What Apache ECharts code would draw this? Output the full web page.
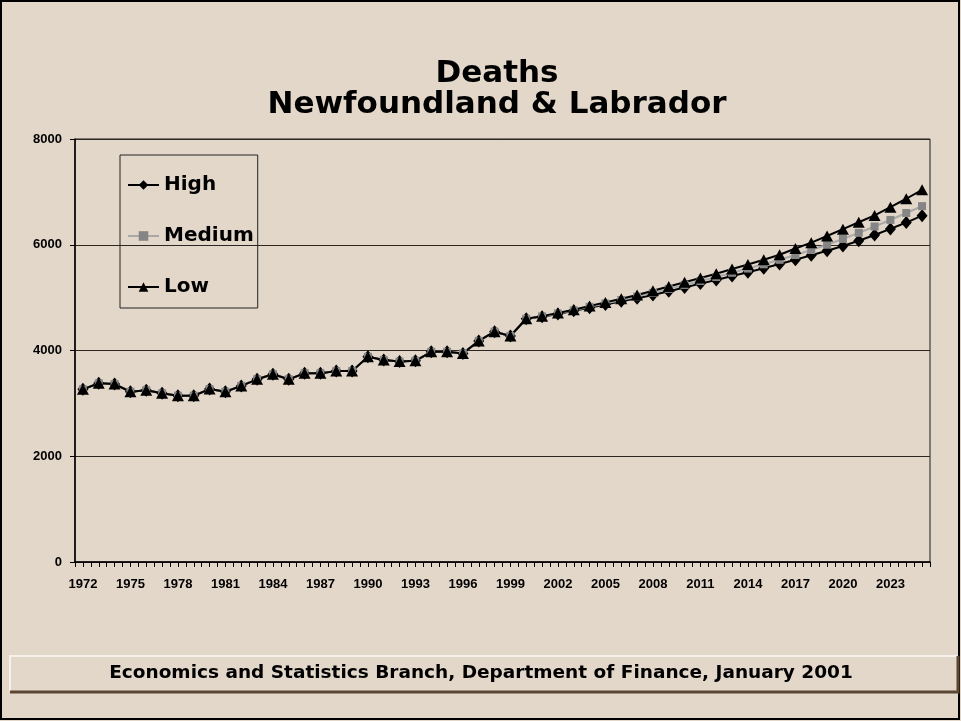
<!DOCTYPE html>
<html>
<head>
<meta charset="utf-8">
<title>Deaths - Newfoundland & Labrador</title>
<script src="https://cdn.jsdelivr.net/npm/echarts@6/dist/echarts.min.js"></script>
<style>
  html, body { margin: 0; padding: 0; background: #E3D7CA; }
  #chart { width: 961px; height: 721px; }
</style>
</head>
<body>
<div id="chart"></div>
<script>
// categories
const years = [
  '1972','1973','1974','1975','1976','1977','1978','1979','1980','1981',
  '1982','1983','1984','1985','1986','1987','1988','1989','1990','1991',
  '1992','1993','1994','1995','1996','1997','1998','1999','2000','2001',
  '2002','2003','2004','2005','2006','2007','2008','2009','2010','2011',
  '2012','2013','2014','2015','2016','2017','2018','2019','2020','2021',
  '2022','2023','2024','2025'
]

// projection series (identical until 1999)
const highValues = [
  3265, 3380, 3365, 3220, 3250, 3190, 3145, 3145, 3270, 3220,
  3330, 3455, 3550, 3455, 3570, 3570, 3610, 3610, 3880, 3820,
  3790, 3805, 3975, 3975, 3945, 4180, 4355, 4275, 4600, 4640,
  4690, 4750, 4810, 4870, 4930, 4990, 5050, 5120, 5190, 5265,
  5335, 5410, 5480, 5555, 5635, 5715, 5800, 5885, 5975, 6075,
  6185, 6300, 6420, 6550
]
const mediumValues = [
  3265, 3380, 3365, 3220, 3250, 3190, 3145, 3145, 3270, 3220,
  3330, 3455, 3550, 3455, 3570, 3570, 3610, 3610, 3880, 3820,
  3790, 3805, 3975, 3975, 3945, 4180, 4355, 4275, 4600, 4645,
  4700, 4760, 4825, 4890, 4955, 5020, 5090, 5165, 5240, 5315,
  5390, 5470, 5550, 5630, 5715, 5805, 5900, 6000, 6110, 6225,
  6345, 6470, 6600, 6730
]
const lowValues = [
  3265, 3380, 3365, 3220, 3250, 3190, 3145, 3145, 3270, 3220,
  3330, 3455, 3550, 3455, 3570, 3570, 3610, 3610, 3880, 3820,
  3790, 3805, 3975, 3975, 3945, 4180, 4355, 4275, 4600, 4650,
  4710, 4770, 4840, 4910, 4980, 5050, 5130, 5210, 5290, 5370,
  5450, 5540, 5625, 5715, 5810, 5930, 6040, 6165, 6295, 6425,
  6555, 6710, 6870, 7040
]

const yTicks = { min: 0, max: 8000, interval: 2000 }

const titleFont = '"Comic Sans MS", "DejaVu Sans", sans-serif'
const axisFont = '"Liberation Sans Narrow", "Liberation Sans", Arial, sans-serif'
const bg = '#E3D7CA'

const chart = echarts.init(document.getElementById('chart'), null, { renderer: 'canvas' })

const option = {
  backgroundColor: bg,
  animation: false,
  grid: {
    left: 75,
    right: 31,
    top: 139,
    bottom: 159,
    show: true,
    borderColor: '#1a1a1a',
    borderWidth: 1,
    backgroundColor: 'transparent'
  },
  legend: {
    orient: 'vertical',
    left: 120,
    top: 155,
    padding: [18, 4, 9, 7],
    itemGap: 27,
    itemWidth: 31,
    itemHeight: 12,
    borderColor: '#222',
    borderWidth: 1,
    data: ['High', 'Medium', 'Low'],
    textStyle: {
      fontFamily: titleFont,
      fontWeight: 'bold',
      fontSize: 20,
      lineHeight: 24,
      color: '#000'
    }
  },
  xAxis: [
    {
      type: 'category',
      position: 'bottom',
      data: years,
      boundaryGap: true,
      axisLine: { lineStyle: { color: '#000', width: 1.5 } },
      axisTick: { show: true, interval: 0, length: 5, lineStyle: { color: '#000' } },
      axisLabel: {
        interval: 2,
        margin: 16,
        color: '#000',
        fontFamily: axisFont,
        fontWeight: 'bold',
        fontSize: 13
      },
      splitLine: { show: false }
    },
    {
      // half-step ticks between category boundaries
      type: 'category',
      position: 'bottom',
      data: years,
      boundaryGap: true,
      axisLine: { show: false },
      axisTick: { show: true, interval: 0, alignWithLabel: true, length: 5, lineStyle: { color: '#000' } },
      axisLabel: { show: false },
      splitLine: { show: false }
    }
  ],
  yAxis: {
    type: 'value',
    min: yTicks.min,
    max: yTicks.max,
    interval: yTicks.interval,
    axisLine: { show: true, lineStyle: { color: '#000', width: 1.5 } },
    axisTick: { show: true, length: 5, lineStyle: { color: '#000' } },
    axisLabel: {
      margin: 13,
      color: '#000',
      fontFamily: axisFont,
      fontWeight: 'bold',
      fontSize: 13,
      formatter: (v) => String(v)
    },
    splitLine: { lineStyle: { color: '#2e2620', width: 1.2 } }
  },
  series: [
    {
      name: 'High',
      type: 'line',
      data: highValues,
      showAllSymbol: true,
      symbol: 'diamond',
      symbolSize: [11, 13],
      lineStyle: { color: '#000', width: 2 },
      itemStyle: { color: '#000' }
    },
    {
      name: 'Medium',
      type: 'line',
      data: mediumValues,
      showAllSymbol: true,
      symbol: 'rect',
      symbolSize: 8,
      lineStyle: { color: '#A8A8A8', width: 2 },
      itemStyle: { color: '#858585' }
    },
    {
      name: 'Low',
      type: 'line',
      data: lowValues,
      showAllSymbol: true,
      symbol: 'triangle',
      symbolSize: [12, 11],
      lineStyle: { color: '#000', width: 2 },
      itemStyle: { color: '#000' }
    }
  ],
  graphic: [
    {
      type: 'rect',
      silent: true,
      shape: { x: 1, y: 1, width: 958, height: 718 },
      style: { fill: 'none', stroke: '#000', lineWidth: 2 }
    },
    {
      type: 'text',
      silent: true,
      x: 497,
      y: 74,
      style: {
        text: 'Deaths',
        textAlign: 'center',
        textVerticalAlign: 'middle',
        fontFamily: titleFont,
        fontWeight: 'bold',
        fontSize: 31,
        fill: '#000'
      }
    },
    {
      type: 'text',
      silent: true,
      x: 497,
      y: 105,
      style: {
        text: 'Newfoundland & Labrador',
        textAlign: 'center',
        textVerticalAlign: 'middle',
        fontFamily: titleFont,
        fontWeight: 'bold',
        fontSize: 31,
        fill: '#000'
      }
    },
    // footer panel
    {
      type: 'rect',
      silent: true,
      shape: { x: 10, y: 656, width: 948, height: 35 },
      style: { fill: bg }
    },
    {
      type: 'polyline',
      silent: true,
      shape: { points: [[10, 691], [10, 656], [958, 656]] },
      style: { stroke: '#F6F1EB', lineWidth: 2, fill: 'none' }
    },
    {
      type: 'polyline',
      silent: true,
      shape: { points: [[958, 656], [958, 692], [10, 692]] },
      style: { stroke: '#5C4733', lineWidth: 3, fill: 'none' }
    },
    {
      type: 'text',
      silent: true,
      x: 481,
      y: 673,
      style: {
        text: 'Economics and Statistics Branch, Department of Finance, January 2001',
        textAlign: 'center',
        textVerticalAlign: 'middle',
        fontFamily: titleFont,
        fontWeight: 'bold',
        fontSize: 18.5,
        fill: '#000'
      }
    }
  ]
}

chart.setOption(option)
</script>
</body>
</html>
